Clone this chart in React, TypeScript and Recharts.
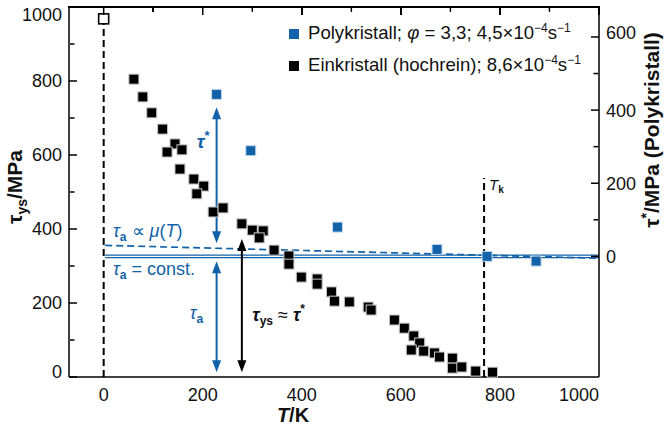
import React from 'react';
import { ScatterChart, Scatter, XAxis, YAxis, ReferenceLine, ReferenceDot, Legend, Label } from 'recharts';

const BLUE = '#1162a9';
const FONT = '"Liberation Sans", Arial, Helvetica, sans-serif';

// Axes
const X_DOMAIN = [-70, 1000];
const LEFT_DOMAIN = [0, 1000];
const RIGHT_DOMAIN = [-330, 682];
const X_MAJOR = [0, 200, 400, 600, 800, 1000];
const X_MINOR = [100, 300, 500, 700, 900];
const LEFT_MAJOR = [0, 200, 400, 600, 800, 1000];
const LEFT_MINOR = [100, 300, 500, 700, 900];
const RIGHT_MAJOR = [0, 200, 400, 600];
const RIGHT_MINOR = [100, 300, 500];

// Einkristall (hochrein): T/K and tau_ys/MPa (left axis)
const einT = [61, 79, 97, 119, 144, 128, 158, 154, 182, 202, 188, 221, 241, 279, 300, 322, 314, 344, 374, 374, 399, 431, 431, 460, 466, 496, 534, 540, 587, 607, 626, 638, 621, 646, 668, 678, 704, 704, 723, 751, 785];
const einTau = [805, 757, 714, 670, 630, 608, 614, 562, 535, 516, 495, 446, 457, 414, 397, 395, 376, 343, 327, 305, 270, 265, 251, 230, 205, 203, 189, 181, 154, 132, 111, 92, 73, 70, 65, 54, 51, 24, 27, 16, 13];

// Polykristall: T/K and tau*/MPa (right axis)
const polyT = [228, 297, 472, 673, 774, 873];
const polyTau = [443, 289, 80, 19, 0, -13];

// Open reference point at T = 0 (left axis)
const refT = [0];
const refTau = [968];

// Reference lines
const T_K = 768;
const TK_TOP = 538;
const ZERO_LINE_TOP = 955;
const TAU_A_CONST = 0; // right axis
const TAU_A_MU_T = [3, 1000];
const TAU_A_MU_V = [30, -5]; // right axis
const LINE_START_T = 3;

// Arrows
const ARROW_TAU_STAR = { T: 228, from: 36, to: 408 }; // right axis
const ARROW_TAU_A = { T: 228, from: 13, to: 313 }; // left axis
const ARROW_TAU_YS = { T: 279, from: 13, to: 373 }; // left axis

const einData = einT.map((T, i) => ({ T, v: einTau[i] }));
const polyData = polyT.map((T, i) => ({ T, v: polyTau[i] }));
const refData = refT.map((T, i) => ({ T, v: refTau[i] }));

// top frame of the plot box (left-axis maximum) and its tick positions
const TOP = LEFT_DOMAIN[1];
const frameData = X_DOMAIN.map((T) => ({ T, v: TOP }));
const topMajorData = X_MAJOR.map((T) => ({ T, v: TOP }));
const topMinorData = X_MINOR.map((T) => ({ T, v: TOP }));

// plot box layout (chart margins + axis sizes)
const PLOT_LEFT = 69;
const PLOT_TOP = 7;
const PLOT_W = 530;

const AXIS = { stroke: '#000', strokeWidth: 1.5 };
const TL = { stroke: '#000', strokeWidth: 1.5 };

const EmptyTick = () => <g />;
const EmptyShape = () => <g />;

const square = (fill: string, stroke: string, size: number, sw: number) => (props: any) => {
  const { cx, cy } = props;
  if (cx == null || cy == null) return <g />;
  return <rect x={cx - size / 2} y={cy - size / 2} width={size} height={size} fill={fill} stroke={stroke} strokeWidth={sw} />;
};

const downTick = (len: number) => (props: any) => {
  const { cx, cy } = props;
  if (cx == null || cy == null) return <g />;
  return <line x1={cx} y1={cy} x2={cx} y2={cy + len} stroke="#000" strokeWidth={1.5} />;
};

const arrowShape = (color: string) => (props: any) => {
  const { x1, y1, x2, y2 } = props;
  if (x1 == null) return <g />;
  const top = Math.min(y1, y2);
  const bot = Math.max(y1, y2);
  const x = x1;
  const L = 12;
  const W = 4.5;
  return (
    <g>
      <line x1={x} y1={top + L - 1} x2={x} y2={bot - L + 1} stroke={color} strokeWidth={2} />
      <polygon points={`${x},${top} ${x - W},${top + L} ${x + W},${top + L}`} fill={color} />
      <polygon points={`${x},${bot} ${x - W},${bot - L} ${x + W},${bot - L}`} fill={color} />
    </g>
  );
};

const doubleLineShape = (props: any) => {
  const { x1, y1, x2, y2 } = props;
  if (x1 == null) return <g />;
  return (
    <g>
      <line x1={x1} y1={y1} x2={x2} y2={y2} stroke={BLUE} strokeWidth={3.6} />
      <line x1={x1} y1={y1} x2={x2} y2={y2} stroke="#ffffff" strokeWidth={1.1} />
    </g>
  );
};

const LeftTick = (p: any) => {
  const v = p.payload.value;
  const shift = v === 1000 ? 8 : v === 0 ? -5 : 0;
  return (
    <text x={p.x} y={p.y + shift} dy="0.36em" textAnchor="end" fontSize={18} fontFamily={FONT} fill="#111">
      {v}
    </text>
  );
};

const RightTick = (p: any) => {
  const v = p.payload.value;
  const shift = v === 600 ? -4 : 0;
  return (
    <text x={p.x} y={p.y + shift} dy="0.36em" textAnchor="start" fontSize={18} fontFamily={FONT} fill="#111">
      {v}
    </text>
  );
};

const BottomTick = (p: any) => {
  const v = p.payload.value;
  const isLast = v === X_MAJOR[X_MAJOR.length - 1];
  return (
    <text x={p.x} y={p.y} dy="0.71em" textAnchor={isLast ? 'end' : 'middle'} fontSize={18} fontFamily={FONT} fill="#111">
      {v}
    </text>
  );
};

const XTitle = (props: any) => {
  const vb = props.viewBox || { x: 69, y: 377 };
  return (
    <text x={vb.x + 224} y={vb.y + 45} textAnchor="middle" fontSize={20} fontWeight="bold" fontFamily={FONT} fill="#111">
      <tspan fontStyle="italic">T</tspan>/K
    </text>
  );
};

const LeftTitle = (props: any) => {
  const vb = props.viewBox || { x: 0, y: 7, height: 370 };
  const cx = vb.x + 22;
  const cy = vb.y + vb.height / 2 - 5;
  return (
    <text x={cx} y={cy} transform={`rotate(-90, ${cx}, ${cy})`} textAnchor="middle" fontSize={21} fontWeight="bold" fontFamily={FONT} fill="#111">
      τ<tspan fontSize={14} dy={5}>ys</tspan><tspan dy={-5}>/MPa</tspan>
    </text>
  );
};

const RightTitle = (props: any) => {
  const vb = props.viewBox || { x: 599, y: 7, height: 370 };
  const cx = vb.x + 60;
  const cy = vb.y + 123;
  return (
    <text x={cx} y={cy} transform={`rotate(-90, ${cx}, ${cy})`} textAnchor="middle" fontSize={21} fontWeight="bold" fontFamily={FONT} fill="#111">
      τ<tspan fontSize={14} dy={-8}>*</tspan><tspan dy={8}>/MPa (Polykristall)</tspan>
    </text>
  );
};

const annot = (key: string, T: number, v: number, yAxisId: string, render: (x: number, y: number) => any) => (
  <ReferenceDot
    key={key}
    xAxisId="x"
    yAxisId={yAxisId}
    x={T}
    y={v}
    r={0}
    fill="none"
    stroke="none"
    ifOverflow="visible"
    label={(props: any) => {
      const vb = props.viewBox || {};
      return render(vb.x, vb.y);
    }}
  />
);

const SUP = { fontSize: 12, position: 'relative' as const, top: -7 };

const LegendBox = () => (
  <div style={{ fontFamily: FONT, fontSize: 18.6, color: '#111', lineHeight: '29px', whiteSpace: 'nowrap' }}>
    <div style={{ display: 'flex', alignItems: 'center' }}>
      <span style={{ display: 'inline-block', width: 10, height: 10, background: BLUE, marginRight: 9 }} />
      <span>
        Polykristall; <i>φ</i> = 3,3; 4,5×10<span style={SUP}>−4</span>s<span style={SUP}>−1</span>
      </span>
    </div>
    <div style={{ display: 'flex', alignItems: 'center' }}>
      <span style={{ display: 'inline-block', width: 10, height: 10, background: '#000', marginRight: 9 }} />
      <span>
        Einkristall (hochrein); 8,6×10<span style={SUP}>−4</span>s<span style={SUP}>−1</span>
      </span>
    </div>
  </div>
);

// top frame of the box as a plain overlay (positions follow the same x domain)
const frameX = (t: number) => PLOT_LEFT + ((t - X_DOMAIN[0]) / (X_DOMAIN[1] - X_DOMAIN[0])) * PLOT_W;
const TopFrame = () => (
  <div style={{ position: 'absolute', left: 0, top: 0, width: 664, height: 40, pointerEvents: 'none', zIndex: 5 }}>
    <div style={{ position: 'absolute', left: PLOT_LEFT - 0.75, top: PLOT_TOP - 0.75, width: PLOT_W + 1.5, height: 1.5, background: '#000' }} />
    {X_MAJOR.map((t) => (
      <div key={`M${t}`} style={{ position: 'absolute', left: frameX(t) - 0.75, top: PLOT_TOP, width: 1.5, height: 8, background: '#000' }} />
    ))}
    {X_MINOR.map((t) => (
      <div key={`m${t}`} style={{ position: 'absolute', left: frameX(t) - 0.75, top: PLOT_TOP, width: 1.5, height: 4.5, background: '#000' }} />
    ))}
  </div>
);

export default function App() {
  return (
    <div style={{ position: 'absolute', left: 0, top: 0, width: 664, height: 427, background: '#fff' }}>
      <ScatterChart width={664} height={427} margin={{ top: 7, right: 0, bottom: 0, left: 0 }}>
        {/* main axes with labels */}
        <XAxis xAxisId="x" type="number" dataKey="T" domain={X_DOMAIN} ticks={X_MAJOR} interval={0}
          height={50} tickSize={0} tickMargin={11} tickLine={false} axisLine={AXIS} tick={BottomTick}>
          <Label content={XTitle} />
        </XAxis>
        <YAxis yAxisId="left" type="number" dataKey="v" domain={LEFT_DOMAIN} ticks={LEFT_MAJOR} interval={0}
          width={69} tickSize={0} tickMargin={7} tickLine={false} axisLine={AXIS} tick={LeftTick}>
          <Label content={LeftTitle} />
        </YAxis>
        <YAxis yAxisId="right" orientation="right" type="number" dataKey="v" domain={RIGHT_DOMAIN} ticks={RIGHT_MAJOR} interval={0}
          width={65} tickSize={0} tickMargin={7} tickLine={false} axisLine={AXIS} tick={RightTick}>
          <Label content={RightTitle} />
        </YAxis>

        {/* inward tick marks (mirrored axes take no space) */}
        <XAxis xAxisId="xb1" type="number" domain={X_DOMAIN} ticks={X_MAJOR} interval={0} allowDataOverflow mirror height={1} tick={EmptyTick} tickSize={8} tickLine={TL} axisLine={false} />
        <XAxis xAxisId="xb2" type="number" domain={X_DOMAIN} ticks={X_MINOR} interval={0} allowDataOverflow mirror height={1} tick={EmptyTick} tickSize={4.5} tickLine={TL} axisLine={false} />
        <YAxis yAxisId="l1" type="number" domain={LEFT_DOMAIN} ticks={LEFT_MAJOR} interval={0} allowDataOverflow mirror width={1} tick={EmptyTick} tickSize={8} tickLine={TL} axisLine={false} />
        <YAxis yAxisId="l2" type="number" domain={LEFT_DOMAIN} ticks={LEFT_MINOR} interval={0} allowDataOverflow mirror width={1} tick={EmptyTick} tickSize={4.5} tickLine={TL} axisLine={false} />
        <YAxis yAxisId="r1" orientation="right" type="number" domain={RIGHT_DOMAIN} ticks={RIGHT_MAJOR} interval={0} allowDataOverflow mirror width={1} tick={EmptyTick} tickSize={8} tickLine={TL} axisLine={false} />
        <YAxis yAxisId="r2" orientation="right" type="number" domain={RIGHT_DOMAIN} ticks={RIGHT_MINOR} interval={0} allowDataOverflow mirror width={1} tick={EmptyTick} tickSize={4.5} tickLine={TL} axisLine={false} />

        {/* reference lines */}
        <ReferenceLine xAxisId="x" yAxisId="left" segment={[{ x: 0, y: 0 }, { x: 0, y: ZERO_LINE_TOP }]} stroke="#000" strokeWidth={2} strokeDasharray="7 4" ifOverflow="visible" />
        <ReferenceLine xAxisId="x" yAxisId="left" segment={[{ x: T_K, y: 0 }, { x: T_K, y: TK_TOP }]} stroke="#000" strokeWidth={2} strokeDasharray="7 4" ifOverflow="visible" />
        <ReferenceLine xAxisId="x" yAxisId="right" segment={[{ x: LINE_START_T, y: TAU_A_CONST }, { x: X_DOMAIN[1], y: TAU_A_CONST }]} shape={doubleLineShape} ifOverflow="visible" />
        <ReferenceLine xAxisId="x" yAxisId="right" segment={[{ x: TAU_A_MU_T[0], y: TAU_A_MU_V[0] }, { x: TAU_A_MU_T[1], y: TAU_A_MU_V[1] }]} stroke={BLUE} strokeWidth={1.7} strokeDasharray="7 4" ifOverflow="visible" />

        {/* arrows */}
        <ReferenceLine xAxisId="x" yAxisId="right" segment={[{ x: ARROW_TAU_STAR.T, y: ARROW_TAU_STAR.from }, { x: ARROW_TAU_STAR.T, y: ARROW_TAU_STAR.to }]} shape={arrowShape(BLUE)} ifOverflow="visible" />
        <ReferenceLine xAxisId="x" yAxisId="left" segment={[{ x: ARROW_TAU_A.T, y: ARROW_TAU_A.from }, { x: ARROW_TAU_A.T, y: ARROW_TAU_A.to }]} shape={arrowShape(BLUE)} ifOverflow="visible" />
        <ReferenceLine xAxisId="x" yAxisId="left" segment={[{ x: ARROW_TAU_YS.T, y: ARROW_TAU_YS.from }, { x: ARROW_TAU_YS.T, y: ARROW_TAU_YS.to }]} shape={arrowShape('#000')} ifOverflow="visible" />

        {/* data */}
        <Scatter name="Einkristall" data={einData} xAxisId="x" yAxisId="left" shape={square('#000', '#c8c8c8', 10, 1)} isAnimationActive={false} />
        <Scatter name="Polykristall" data={polyData} xAxisId="x" yAxisId="right" shape={square(BLUE, '#c9dbee', 10, 1)} isAnimationActive={false} />
        <Scatter name="Referenz" data={refData} xAxisId="x" yAxisId="left" shape={square('#fff', '#000', 10, 1.6)} isAnimationActive={false} />

        {/* annotations */}
        {annot('tstar', 188, 295, 'right', (x, y) => (
          <text x={x} y={y} fontSize={19} fontFamily={FONT} fill={BLUE} fontWeight="bold">
            <tspan fontStyle="italic">τ</tspan><tspan fontSize={13} dy={-8}>*</tspan>
          </text>
        ))}
        {annot('tmu', 19, 378, 'left', (x, y) => (
          <text x={x} y={y} fontSize={18} fontFamily={FONT} fill={BLUE}>
            <tspan fontStyle="italic">τ</tspan><tspan fontSize={12} fontWeight="bold" dy={4}>a</tspan><tspan dy={-4}> ∝ </tspan><tspan fontStyle="italic">μ</tspan>(<tspan fontStyle="italic">T</tspan>)
          </text>
        ))}
        {annot('tconst', 19, 276, 'left', (x, y) => (
          <text x={x} y={y} fontSize={18} fontFamily={FONT} fill={BLUE}>
            <tspan fontStyle="italic">τ</tspan><tspan fontSize={12} fontWeight="bold" dy={4}>a</tspan><tspan dy={-4}> = const.</tspan>
          </text>
        ))}
        {annot('ta', 174, 157, 'left', (x, y) => (
          <text x={x} y={y} fontSize={18} fontFamily={FONT} fill={BLUE}>
            <tspan fontStyle="italic">τ</tspan><tspan fontSize={12} fontWeight="bold" dy={4}>a</tspan>
          </text>
        ))}
        {annot('tys', 300, 151, 'left', (x, y) => (
          <text x={x} y={y} fontSize={18} fontFamily={FONT} fill="#111">
            <tspan fontStyle="italic" fontWeight="bold">τ</tspan><tspan fontSize={12} fontWeight="bold" dy={4}>ys</tspan><tspan dy={-4}> ≈ </tspan><tspan fontStyle="italic" fontWeight="bold">τ</tspan><tspan fontSize={12} fontWeight="bold" dy={-8}>*</tspan>
          </text>
        ))}
        {annot('tk', 778, 505, 'left', (x, y) => (
          <text x={x} y={y} fontSize={15} fontFamily={FONT} fill="#111">
            <tspan fontStyle="italic">T</tspan><tspan fontSize={10} fontWeight="bold" dy={3}>k</tspan>
          </text>
        ))}

        <Legend layout="vertical" align="center" verticalAlign="middle" content={LegendBox}
          wrapperStyle={{ top: 18, left: 289, width: 340, height: 60 }} />
      </ScatterChart>

      {/* overlay chart with the same plot area: top frame line and its inward ticks */}
      <div style={{ position: 'absolute', left: 0, top: 0, pointerEvents: 'none' }}>
        <ScatterChart width={664} height={427} margin={{ top: 7, right: 65, bottom: 50, left: 69 }}>
          <XAxis xAxisId="x" type="number" dataKey="T" domain={X_DOMAIN} hide />
          <YAxis yAxisId="left" type="number" dataKey="v" domain={LEFT_DOMAIN} hide />
          <Scatter data={frameData} xAxisId="x" yAxisId="left" line={{ stroke: '#000', strokeWidth: 1.5 }} shape={EmptyShape} isAnimationActive={false} />
          <Scatter data={topMajorData} xAxisId="x" yAxisId="left" shape={downTick(8)} isAnimationActive={false} />
          <Scatter data={topMinorData} xAxisId="x" yAxisId="left" shape={downTick(4.5)} isAnimationActive={false} />
        </ScatterChart>
      </div>

      <TopFrame />
    </div>
  );
}
